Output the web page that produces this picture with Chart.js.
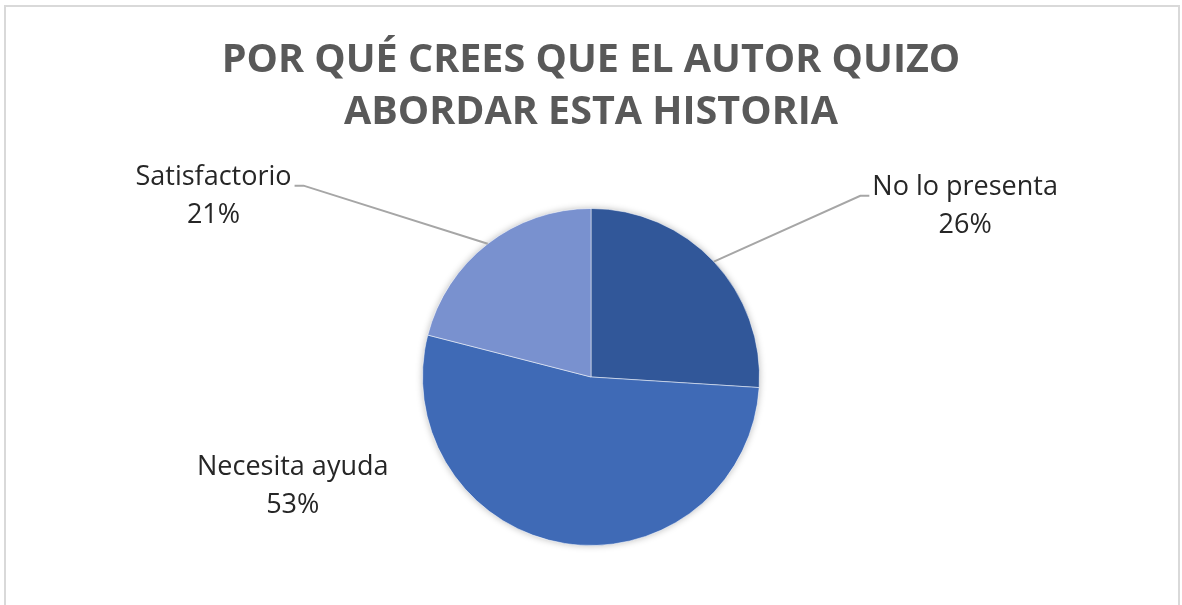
<!DOCTYPE html>
<html>
<head>
<meta charset="utf-8">
<script src="https://cdn.jsdelivr.net/npm/chart.js@4"></script>
<style>
html, body { margin: 0; padding: 0; background: #fff; }
#wrap { position: relative; width: 1182px; height: 605px; overflow: hidden; }
#frame { position: absolute; left: 4px; top: 5px; width: 1176px; height: 700px; border: 2px solid #d9d9d9; box-sizing: border-box; }
canvas { position: absolute; left: 0; top: 0; }
</style>
</head>
<body>
<div id="wrap">
  <div id="frame"></div>
  <canvas id="chart" width="1182" height="605"></canvas>
</div>
<script>
// chart data
var titleLines = ['POR QUÉ CREES QUE EL AUTOR QUIZO', 'ABORDAR ESTA HISTORIA'];
var categories = ['No lo presenta', 'Necesita ayuda', 'Satisfactorio'];
var values = [26, 53, 21];
var colors = ['#315799', '#3f6ab6', '#7991cf'];

// where each label sits, relative to pie centre in radius units, and whether it gets a leader line
var labelPlace = [
    { dx: 2.22, dy: -1.01, leader: true },
    { dx: -1.77, dy: 0.65, leader: false },
    { dx: -2.24, dy: -1.07, leader: true }
];

var shadowPlugin = {
    id: 'pieShadow',
    beforeDatasetsDraw: function (chart) {
        var arc = chart.getDatasetMeta(0).data[0];
        if (!arc) return;
        var ctx = chart.ctx;
        ctx.save();
        ctx.shadowColor = 'rgba(0,0,0,0.28)';
        ctx.shadowBlur = 7;
        ctx.beginPath();
        ctx.arc(arc.x, arc.y, arc.outerRadius, 0, Math.PI * 2);
        ctx.fillStyle = '#fff';
        ctx.fill();
        ctx.restore();
    }
};

var labelPlugin = {
    id: 'outLabels',
    afterDatasetsDraw: function (chart) {
        var ctx = chart.ctx;
        var total = values.reduce(function (a, b) { return a + b; }, 0);
        var lineH = 38;
        chart.getDatasetMeta(0).data.forEach(function (arc, i) {
            var p = labelPlace[i];
            var r = arc.outerRadius;
            var cx = arc.x + p.dx * r;
            var cy = arc.y + p.dy * r;
            var pct = Math.round(values[i] / total * 100) + '%';

            ctx.save();
            ctx.font = '27px "Open Sans"';
            ctx.fillStyle = '#262626';
            ctx.textAlign = 'center';
            ctx.textBaseline = 'middle';
            ctx.fillText(categories[i], cx, cy - lineH / 2);
            ctx.fillText(pct, cx, cy + lineH / 2);

            if (p.leader) {
                var w = ctx.measureText(categories[i]).width;
                var mid = (arc.startAngle + arc.endAngle) / 2;
                var ex = arc.x + Math.cos(mid) * r;
                var ey = arc.y + Math.sin(mid) * r;
                var side = cx > arc.x ? -1 : 1;
                var tx = cx + side * (w / 2 + 3);
                var ty = cy - lineH / 2 + 8;
                var kx = tx + side * 9;
                ctx.strokeStyle = '#a6a6a6';
                ctx.lineWidth = 2;
                ctx.beginPath();
                ctx.moveTo(ex, ey);
                ctx.lineTo(kx, ty);
                ctx.lineTo(tx, ty);
                ctx.stroke();
            }
            ctx.restore();
        });
    }
};

var ctx = document.getElementById('chart');
new Chart(ctx, {
    type: 'pie',
    data: {
        labels: categories,
        datasets: [{
            data: values,
            backgroundColor: colors,
            borderColor: 'rgba(255,255,255,0.5)',
            borderWidth: 1
        }]
    },
    plugins: [shadowPlugin, labelPlugin],
    options: {
        responsive: false,
        animation: false,
        layout: { padding: { top: 0, bottom: 59, left: 0, right: 0 } },
        plugins: {
            legend: { display: false },
            tooltip: { enabled: false },
            title: {
                display: true,
                text: titleLines,
                color: '#595959',
                font: { family: '"Open Sans"', size: 39.5, weight: 'bold', lineHeight: 1.316 },
                padding: { top: 35, bottom: 69 }
            }
        }
    }
});
</script>
</body>
</html>
